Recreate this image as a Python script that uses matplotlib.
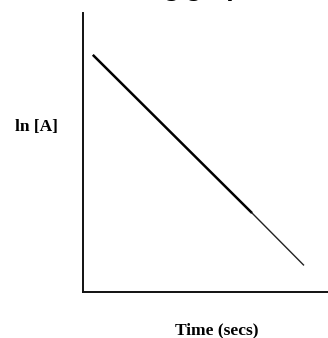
import matplotlib.pyplot as plt

# --- Data ---
time = [0.4, 6.9, 9.0]          # start, where the line thins, end
ln_a = [8.5, 2.83, 0.97]
x_label = "Time (secs)"
y_label = "ln [A]"
caption = "ing graph"

fig = plt.figure(figsize=(3.28, 3.38), dpi=100)
ax = fig.add_axes([83 / 328, 1 - 292 / 338, 245 / 328, 279 / 338])

# thick part then the thin tail
ax.plot(time[:2], ln_a[:2], color="black", lw=1.8, solid_capstyle="butt")
ax.plot(time[1:], ln_a[1:], color="#222222", lw=1.0)

ax.set_xlim(0, 10)
ax.set_ylim(0, 10)
ax.set_xticks([])
ax.set_yticks([])
for side in ("top", "right"):
    ax.spines[side].set_visible(False)
for side in ("left", "bottom"):
    ax.spines[side].set_linewidth(1.4)
    ax.spines[side].set_color("#111111")

serif = ["Liberation Serif", "DejaVu Serif"]
fig.text(217 / 328, 1 - 330 / 338, x_label, ha="center", va="center",
         fontsize=12.5, fontweight="bold", family=serif)
fig.text(36 / 328, 1 - 127 / 338, y_label, ha="center", va="center",
         fontsize=12.5, fontweight="bold", family=serif)

# caption above the image, only its descenders show
fig.text(200 / 328, 1 + 3 / 338, caption, ha="center", va="baseline",
         fontsize=15, fontweight="bold", family="DejaVu Sans")

fig.savefig("out.png", dpi=100)
